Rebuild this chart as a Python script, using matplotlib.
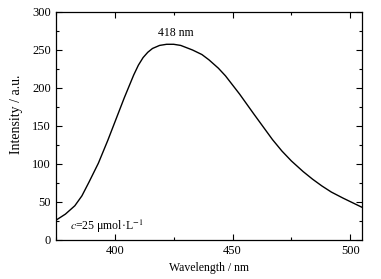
import numpy as np
import matplotlib
matplotlib.use("Agg")
import matplotlib.pyplot as plt
from matplotlib.ticker import MultipleLocator

# emission spectrum
wavelength = [375, 379, 383, 386, 389, 393, 397, 400, 402, 404, 406, 408, 410,
              412, 414, 416, 419, 422, 425, 428, 433, 437, 440, 444, 447, 450,
              453, 456, 459, 463, 467, 471, 475, 480, 484, 488, 492, 497, 501,
              505]
intensity = [26, 34, 45, 58, 76, 101, 131, 155, 171, 187, 202, 217, 230,
             240, 247, 252, 256, 257.5, 257.5, 256, 250, 244, 237, 226, 216, 204,
             192, 179, 166, 149, 132, 117, 104, 90, 80, 71, 63, 55, 49,
             43]
peak_label = "418 nm"
conc_label = "$c$=25 μmol·L$^{-1}$"

plt.rcParams['font.family'] = ['Liberation Serif', 'DejaVu Serif']
plt.rcParams['mathtext.fontset'] = 'stix'
plt.rcParams['font.size'] = 8.5

fig = plt.figure(figsize=(3.81, 2.79), dpi=100)
ax = fig.add_axes([0.147, 0.140, 0.803, 0.817])

ax.plot(wavelength, intensity, color='black', lw=1.0)

ax.set_xlim(375, 505)
ax.set_ylim(0, 300)
ax.xaxis.set_major_locator(MultipleLocator(50))
ax.xaxis.set_minor_locator(MultipleLocator(25))
ax.yaxis.set_major_locator(MultipleLocator(50))
ax.yaxis.set_minor_locator(MultipleLocator(25))
ax.tick_params(which='both', direction='in', top=True, right=True, width=0.8,
               labelsize=9)
ax.tick_params(which='major', length=4)
ax.tick_params(which='minor', length=2)
for s in ax.spines.values():
    s.set_linewidth(0.9)

ax.set_xlabel("Wavelength / nm", labelpad=4)
ax.set_ylabel("Intensity / a.u.", fontsize=10)
ax.yaxis.set_label_coords(-0.108, 0.553)

ax.text(426, 272, peak_label, ha='center', va='center')
ax.text(381, 18, conc_label, ha='left', va='center')

fig.savefig("out.png", dpi=100, facecolor='white')
